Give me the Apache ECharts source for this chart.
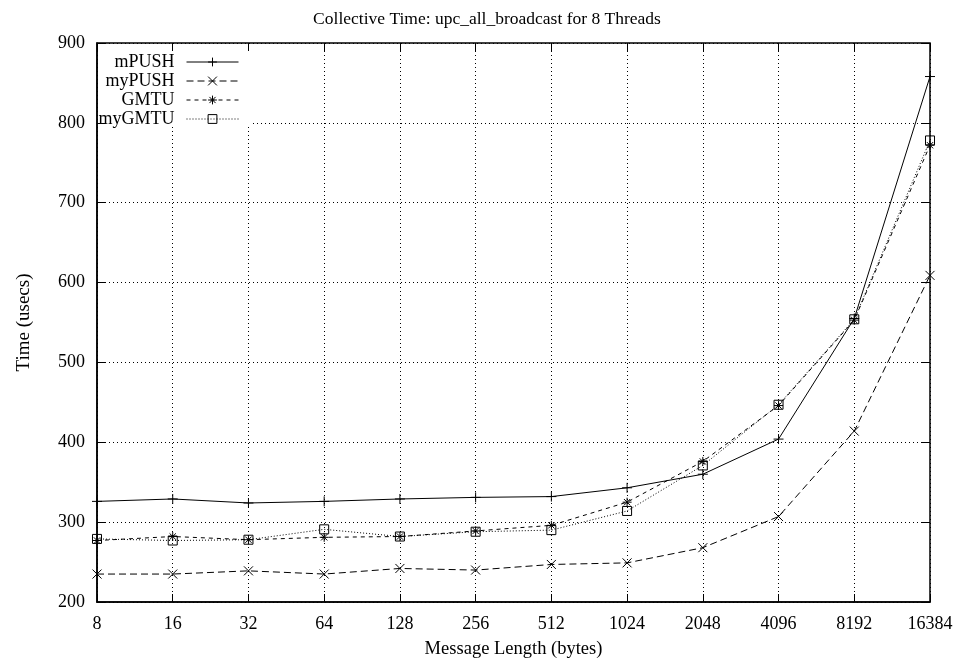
<!DOCTYPE html>
<html>
<head>
<meta charset="utf-8">
<script src="https://cdn.jsdelivr.net/npm/echarts@6/dist/echarts.min.js"></script>
<style>
html,body{margin:0;padding:0;background:#fff;}
#chart{width:958px;height:664px;}
</style>
</head>
<body>
<div id="chart"></div>
<script>
var categories = ['8','16','32','64','128','256','512','1024','2048','4096','8192','16384'];
var mPUSH  = [326, 329, 324, 326, 329, 331, 332, 343, 360, 404, 555, 858];
var myPUSH = [235, 235, 239, 235, 242, 240, 247, 249, 268, 307, 414, 609];
var GMTU   = [277, 282, 278, 281, 282, 289, 296, 325, 376, 446, 553, 772];
var myGMTU = [279, 277, 278, 291, 282, 288, 290, 314, 371, 447, 554, 778];
var yTicks = [200, 300, 400, 500, 600, 700, 800, 900];

var FONT = '"Liberation Serif", "DejaVu Serif", serif';
var PLUS = 'path://M0,5L10,5M5,0L5,10';
var CROSS = 'path://M0,0L10,10M0,10L10,0';
var STAR = 'path://M0,5L10,5M5,0L5,10M1.5,1.5L8.5,8.5M1.5,8.5L8.5,1.5';
var SQUARE = 'path://M0,0L10,0L10,10L0,10Z';

function mk(name, data, sym, dash, size) {
  return {
    name: name, type: 'line', data: data,
    symbol: sym, symbolSize: size, showSymbol: true,
    lineStyle: {color: '#000', width: 1, type: dash},
    itemStyle: {color: 'rgba(0,0,0,0)', borderColor: '#000', borderWidth: 1},
    emphasis: {disabled: true},
    animation: false, z: 3
  };
}

var series = [
  mk('mPUSH', mPUSH, PLUS, 'solid', 10),
  mk('myPUSH', myPUSH, CROSS, [7, 4], 9),
  mk('GMTU', GMTU, STAR, [4, 4], 9),
  mk('myGMTU', myGMTU, SQUARE, [1, 2], 9)
];

var names = ['mPUSH', 'myPUSH', 'GMTU', 'myGMTU'];
var legends = names.map(function (n, i) {
  return {
    data: [n], orient: 'vertical', align: 'right',
    right: 958 - 239, top: 53 + i * 19,
    itemWidth: 52, itemHeight: 11, itemGap: 0, padding: 0,
    lineStyle: {width: 1},
    itemStyle: {borderWidth: 1},
    textStyle: {fontFamily: FONT, fontSize: 18, color: '#000', padding: [0, 7, 0, 0]},
    selectedMode: false, z: 6
  };
});

var chart = echarts.init(document.getElementById('chart'), null, {renderer: 'canvas'});
chart.setOption({
  backgroundColor: '#fff',
  animation: false,
  title: {
    text: 'Collective Time: upc_all_broadcast for 8 Threads',
    left: 482, top: 5, textAlign: 'center',
    textStyle: {fontFamily: FONT, fontSize: 17.5, fontWeight: 'normal', color: '#000'}
  },
  legend: legends,
  graphic: {
    z: 2,
    elements: [{
      type: 'rect', shape: {x: 105, y: 51, width: 145, height: 74},
      style: {fill: '#fff'}, z: 2, silent: true
    }]
  },
  grid: {left: 97, right: 28, top: 43, bottom: 61, show: true, borderColor: '#000', borderWidth: 1.5, backgroundColor: 'transparent'},
  xAxis: [{
    type: 'category', data: categories, boundaryGap: false,
    name: 'Message Length (bytes)', nameLocation: 'middle', nameGap: 38,
    nameTextStyle: {fontFamily: FONT, fontSize: 18.5, color: '#000'},
    axisLine: {show: true, lineStyle: {color: '#000', width: 1.5}},
    axisTick: {show: true, inside: true, length: 8, lineStyle: {color: '#000'}},
    axisLabel: {fontFamily: FONT, fontSize: 18, color: '#000', margin: 13},
    splitLine: {show: true, lineStyle: {color: '#000', width: 1, type: [1, 3]}}
  }, {
    type: 'category', data: categories, boundaryGap: false, position: 'top',
    axisLine: {show: false},
    axisTick: {show: true, inside: true, length: 8, lineStyle: {color: '#000'}},
    axisLabel: {show: false}, splitLine: {show: false}
  }],
  yAxis: [{
    type: 'value', min: yTicks[0], max: yTicks[yTicks.length - 1], interval: 100,
    name: 'Time (usecs)', nameLocation: 'middle', nameGap: 63, nameRotate: 90,
    nameTextStyle: {fontFamily: FONT, fontSize: 19, color: '#000'},
    axisLine: {show: true, lineStyle: {color: '#000', width: 1.5}},
    axisTick: {show: true, inside: true, length: 8, lineStyle: {color: '#000'}},
    axisLabel: {fontFamily: FONT, fontSize: 18, color: '#000', margin: 12},
    splitLine: {show: true, lineStyle: {color: '#000', width: 1, type: [1, 3]}}
  }, {
    type: 'value', min: yTicks[0], max: yTicks[yTicks.length - 1], interval: 100, position: 'right',
    axisLine: {show: false},
    axisTick: {show: true, inside: true, length: 8, lineStyle: {color: '#000'}},
    axisLabel: {show: false}, splitLine: {show: false}
  }],
  series: series
});
</script>
</body>
</html>
